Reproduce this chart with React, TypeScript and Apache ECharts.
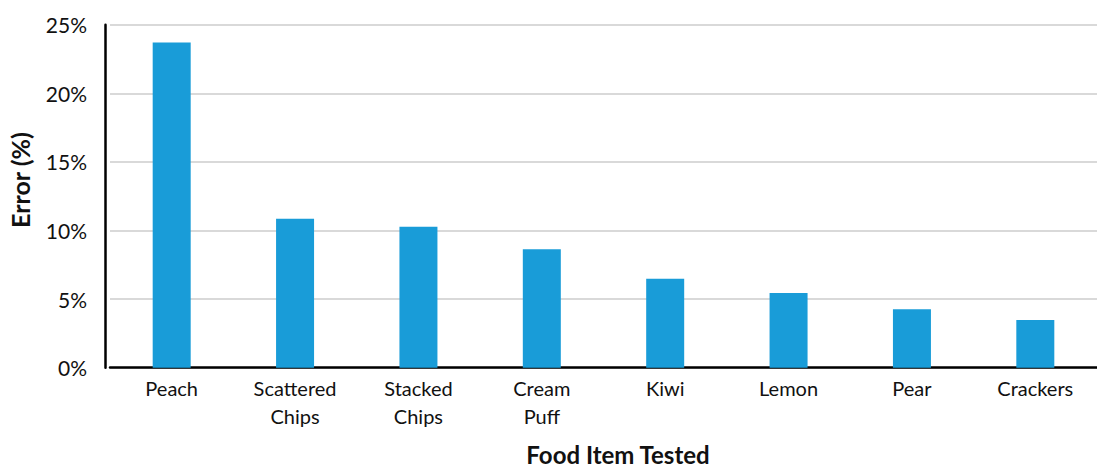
import React, { useEffect, useRef } from "react";
import * as echarts from "echarts";

const categories = ["Peach", "Scattered\nChips", "Stacked\nChips", "Cream\nPuff", "Kiwi", "Lemon", "Pear", "Crackers"];
const errorValues = [23.7, 10.86, 10.28, 8.63, 6.49, 5.44, 4.26, 3.48];
const yTicks = { min: 0, max: 25, interval: 5 };
const xTitle = "Food Item Tested";
const yTitle = "Error (%)";

export default function App() {
  const ref = useRef<HTMLDivElement>(null);
  useEffect(() => {
    document.body.style.margin = "0";
    const chart = echarts.init(ref.current!, null, { renderer: "svg" });
    const font = "Lato, 'Open Sans', sans-serif";
    chart.setOption({
      animation: false,
      backgroundColor: "#ffffff",
      grid: { left: 110, right: 0, top: 24.7, bottom: 101.3, containLabel: false },
      xAxis: {
        type: "category",
        data: categories,
        axisLine: { show: true, lineStyle: { color: "#000", width: 2.5 } },
        axisTick: { show: false },
        axisLabel: { color: "#111", fontSize: 20, fontFamily: font, lineHeight: 28, margin: 6, interval: 0 },
      },
      yAxis: {
        type: "value",
        min: yTicks.min,
        max: yTicks.max,
        interval: yTicks.interval,
        offset: 5,
        axisLine: { show: true, lineStyle: { color: "#000", width: 2.5 } },
        axisTick: { show: false },
        splitLine: { show: true, lineStyle: { color: "#d9d9d9", width: 2 } },
        axisLabel: { color: "#111", fontSize: 21, fontFamily: font, formatter: "{value}%", margin: 18 },
      },
      graphic: [
        {
          type: "text",
          x: 618,
          y: 454,
          style: {
            text: xTitle,
            fontSize: 24,
            fontWeight: "bold",
            fontFamily: font,
            fill: "#111",
            align: "center",
            verticalAlign: "middle",
          },
        },
        {
          type: "text",
          x: 20,
          y: 180,
          rotation: Math.PI / 2,
          style: {
            text: yTitle,
            fontSize: 25,
            fontWeight: "bold",
            fontFamily: font,
            fill: "#111",
            align: "center",
            verticalAlign: "middle",
          },
        },
      ],
      series: [
        {
          type: "bar",
          data: errorValues,
          barWidth: 38,
          itemStyle: { color: "#199cd8" },
        },
      ],
    });
    return () => chart.dispose();
  }, []);
  return <div ref={ref} style={{ width: 1097, height: 469 }} />;
}
